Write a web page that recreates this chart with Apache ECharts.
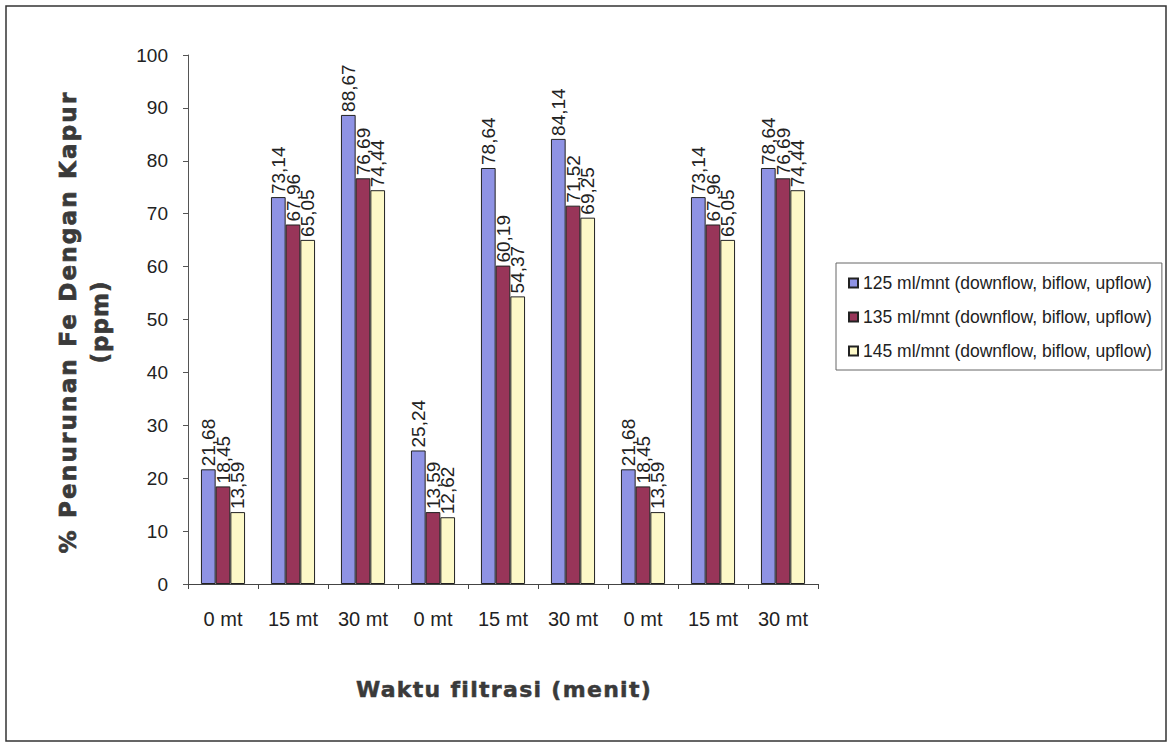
<!DOCTYPE html>
<html>
<head>
<meta charset="utf-8">
<script src="https://cdn.jsdelivr.net/npm/echarts@6/dist/echarts.min.js"></script>
<style>
  html, body { margin: 0; padding: 0; background: #fff; }
  #chart { width: 1171px; height: 747px; }
</style>
</head>
<body>
<div id="chart"></div>
<script>
// Filtration time categories (three runs: downflow, biflow, upflow)
const categories = ['0 mt', '15 mt', '30 mt', '0 mt', '15 mt', '30 mt', '0 mt', '15 mt', '30 mt'];

// % Fe reduction per flow rate
const seriesNames = [
  '125 ml/mnt (downflow, biflow, upflow)',
  '135 ml/mnt (downflow, biflow, upflow)',
  '145 ml/mnt (downflow, biflow, upflow)'
];
const flow125 = [21.68, 73.14, 88.67, 25.24, 78.64, 84.14, 21.68, 73.14, 78.64];
const flow135 = [18.45, 67.96, 76.69, 13.59, 60.19, 71.52, 18.45, 67.96, 76.69];
const flow145 = [13.59, 65.05, 74.44, 12.62, 54.37, 69.25, 13.59, 65.05, 74.44];

const yTicks = { min: 0, max: 100, interval: 10 };
const yTitle = '% Penurunan Fe Dengan Kapur\n(ppm)';
const xTitle = 'Waktu filtrasi (menit)';

const colors = ['#8f93e4', '#983559', '#fdf9c8'];
const textFont = "'Liberation Sans', Arial, sans-serif";
const titleFont = "'DejaVu Sans', sans-serif";

const chart = echarts.init(document.getElementById('chart'), null, { renderer: 'svg' });

function makeSeries(name, data, color) {
  return {
    name: name,
    type: 'bar',
    data: data,
    barGap: '0%',
    barCategoryGap: '37%',
    itemStyle: { color: color, borderColor: '#222', borderWidth: 1 },
    label: {
      show: true,
      position: 'top',
      rotate: 90,
      align: 'left',
      verticalAlign: 'middle',
      distance: 3,
      fontFamily: textFont,
      fontSize: 19,
      color: '#222',
      formatter: p => p.value.toFixed(2).replace('.', ',')
    }
  };
}

chart.setOption({
  animation: false,
  backgroundColor: '#fff',
  grid: { left: 188, top: 55, right: 353, bottom: 163 },
  legend: {
    orient: 'vertical',
    left: 836,
    top: 263,
    align: 'left',
    padding: [11, 10, 10, 12],
    itemGap: 16,
    itemWidth: 9,
    itemHeight: 9,
    borderColor: '#666',
    borderWidth: 1,
    textStyle: { fontFamily: textFont, fontSize: 17.5, color: '#222' },
    data: seriesNames.map(n => ({ name: n, icon: 'rect' }))
  },
  xAxis: {
    type: 'category',
    data: categories,
    axisLine: { lineStyle: { color: '#444', width: 1 } },
    axisTick: { show: true, length: 5, lineStyle: { color: '#444' } },
    axisLabel: { fontFamily: textFont, fontSize: 20, color: '#222', margin: 25, interval: 0 }
  },
  yAxis: {
    type: 'value',
    min: yTicks.min,
    max: yTicks.max,
    interval: yTicks.interval,
    axisLine: { show: true, lineStyle: { color: '#555', width: 1 } },
    axisTick: { show: true, length: 5, lineStyle: { color: '#555' } },
    splitLine: { show: false },
    axisLabel: { fontFamily: textFont, fontSize: 19, color: '#222', margin: 20 }
  },
  graphic: [
    {
      type: 'rect',
      shape: { x: 6, y: 6, width: 1160, height: 735 },
      style: { fill: 'none', stroke: '#333', lineWidth: 1.5 },
      silent: true
    },
    {
      type: 'text',
      id: 'yTitle',
      x: 84,
      y: 322,
      rotation: Math.PI / 2,
      style: {
        text: yTitle,
        fontFamily: titleFont,
        fontWeight: 'bold',
        fontSize: 23,
        lineHeight: 32,
        fill: '#3a3a3a',
        stroke: '#3a3a3a',
        lineWidth: 0.7,
        align: 'center',
        verticalAlign: 'middle'
      }
    },
    {
      type: 'text',
      id: 'xTitle',
      x: 504,
      y: 689,
      style: {
        text: xTitle,
        fontFamily: titleFont,
        fontWeight: 'bold',
        fontSize: 22,
        fill: '#3a3a3a',
        stroke: '#3a3a3a',
        lineWidth: 0.5,
        align: 'center',
        verticalAlign: 'middle'
      }
    }
  ],
  series: [
    makeSeries(seriesNames[0], flow125, colors[0]),
    makeSeries(seriesNames[1], flow135, colors[1]),
    makeSeries(seriesNames[2], flow145, colors[2])
  ]
});

// Widen the tracking of the bold axis titles
function spaceTitles() {
  document.querySelectorAll('#chart text').forEach(t => {
    const s = t.textContent;
    if (s.indexOf('% Penurunan') === 0) t.style.letterSpacing = '2.2px';
    if (s === '(ppm)') t.style.letterSpacing = '1px';
    if (s === xTitle) t.style.letterSpacing = '1.3px';
  });
}
chart.getZr().flush();
spaceTitles();
chart.on('finished', spaceTitles);
</script>
</body>
</html>
